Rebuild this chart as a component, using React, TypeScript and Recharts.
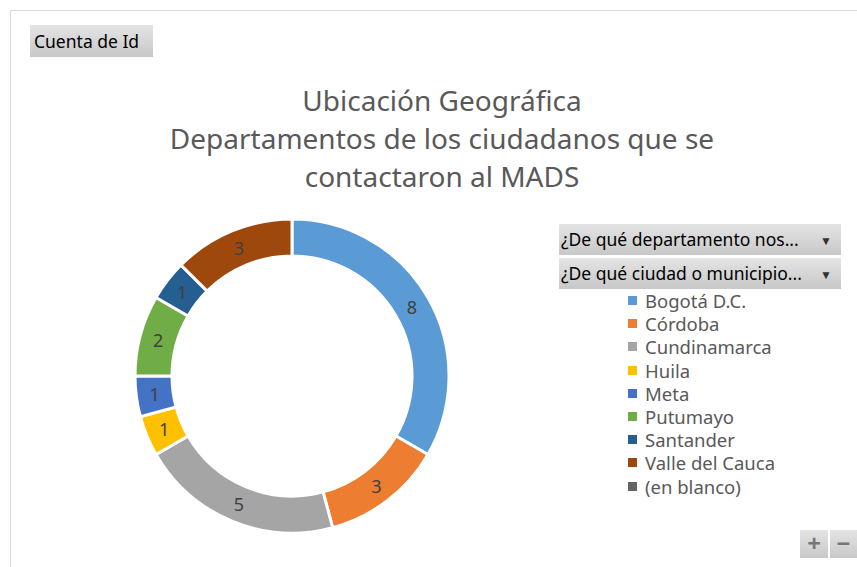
import { PieChart, Pie, Cell } from 'recharts';

const names = ['Bogotá D.C.', 'Córdoba', 'Cundinamarca', 'Huila', 'Meta', 'Putumayo', 'Santander', 'Valle del Cauca', '(en blanco)'];
const counts = [8, 3, 5, 1, 1, 2, 1, 3, 0];
const colors = ['#5B9BD5', '#ED7D31', '#A5A5A5', '#FFC000', '#4472C4', '#70AD47', '#255E91', '#9E480E', '#636363'];
const titleLines = ['Ubicación Geográfica', 'Departamentos de los ciudadanos que se', 'contactaron al MADS'];
const filters = ['¿De qué departamento nos...', '¿De qué ciudad o municipio...'];

const data = names.map((name, i) => ({ name, value: counts[i] }));

const FONT = '"Noto Sans", "Open Sans", sans-serif';
const RAD = Math.PI / 180;

const btn: React.CSSProperties = {
  position: 'absolute',
  background: 'linear-gradient(#e4e4e4, #c8c8c8)',
  color: '#000',
  fontFamily: FONT,
  boxSizing: 'border-box',
  whiteSpace: 'nowrap',
};

function renderLabel(p: any) {
  if (!p.value) return null;
  const r = (p.innerRadius + p.outerRadius) / 2;
  const x = p.cx + r * Math.cos(-p.midAngle * RAD);
  const y = p.cy + r * Math.sin(-p.midAngle * RAD);
  return (
    <text x={x} y={y} fill="#404040" fontSize={18} fontFamily={FONT} textAnchor="middle" dominantBaseline="central">
      {p.value}
    </text>
  );
}

function LegendList() {
  return (
    <div style={{ position: 'absolute', left: 628, top: 289, fontFamily: FONT, fontSize: 18.5, color: '#595959' }}>
      {names.map((n, i) => (
        <div key={n} style={{ display: 'flex', alignItems: 'center', height: 23.2, whiteSpace: 'nowrap' }}>
          <span style={{ width: 9, height: 9, background: colors[i], marginRight: 8, display: 'inline-block' }} />
          <span>{n}</span>
        </div>
      ))}
    </div>
  );
}

export default function App() {
  return (
    <div style={{ position: 'absolute', left: 0, top: 0, width: 857, height: 567, background: '#fff', overflow: 'hidden' }}>
      <div style={{ position: 'absolute', left: 10, top: 10, width: 860, height: 570, border: '1px solid #d9d9d9', boxSizing: 'border-box' }} />
      <div style={{ ...btn, left: 30, top: 25, width: 123, height: 32, fontSize: 17.5, lineHeight: '32px', paddingLeft: 4 }}>Cuenta de Id</div>
      {titleLines.map((t, i) => (
        <div key={t} style={{ position: 'absolute', left: 0, width: 884, top: 81 + i * 38, textAlign: 'center', fontFamily: FONT, fontSize: 28, color: '#595959', lineHeight: '38px', whiteSpace: 'nowrap' }}>
          {t}
        </div>
      ))}
      {filters.map((f, i) => (
        <div key={f} style={{ ...btn, left: 559, top: 224 + i * 34, width: 282, height: 31, fontSize: 17.5, lineHeight: '31px', paddingLeft: 2 }}>
          {f}
          <span style={{ position: 'absolute', right: 9, top: 1, fontSize: 12, color: '#333' }}>▼</span>
        </div>
      ))}
      <div style={{ ...btn, left: 800, top: 530, width: 28, height: 28, fontSize: 24, lineHeight: '26px', textAlign: 'center', color: '#777', fontWeight: 700 }}>+</div>
      <div style={{ ...btn, left: 830, top: 530, width: 27, height: 28, fontSize: 24, lineHeight: '26px', textAlign: 'center', color: '#777', fontWeight: 700 }}>−</div>
      <PieChart width={857} height={567} margin={{ top: 0, right: 0, bottom: 0, left: 0 }} style={{ position: 'absolute', left: 0, top: 0 }}>
        <Pie
          data={data}
          dataKey="value"
          nameKey="name"
          cx={292}
          cy={376}
          innerRadius={120}
          outerRadius={157}
          startAngle={90}
          endAngle={-270}
          stroke="#fff"
          strokeWidth={3}
          label={renderLabel}
          labelLine={false}
          isAnimationActive={false}
        >
          {data.map((d, i) => (
            <Cell key={d.name} fill={colors[i]} />
          ))}
        </Pie>
      </PieChart>
      <LegendList />
    </div>
  );
}
